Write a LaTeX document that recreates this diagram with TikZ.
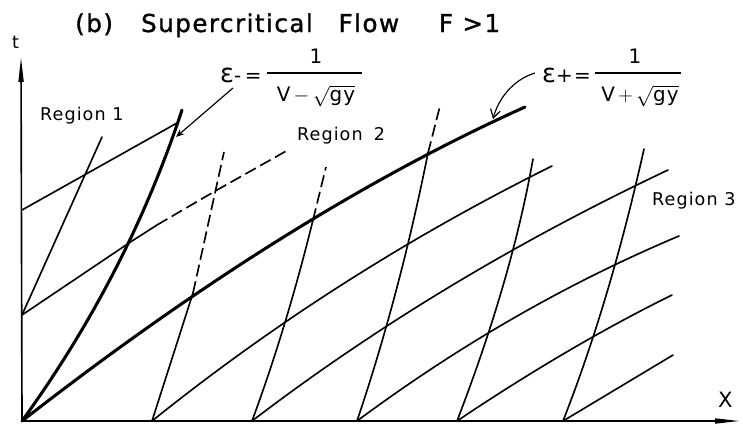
\documentclass[tikz,border=0pt]{standalone}
\usepackage{fontspec}
\usepackage{amsmath}
\setmainfont{DejaVu Sans}
\newfontfamily\lettering[LetterSpace=6]{DejaVu Sans}
\newfontfamily\heavylettering[LetterSpace=6,FakeBold=1.2]{DejaVu Sans}
\newcommand{\epsfont}{\fontsize{22}{24}\selectfont}
\usetikzlibrary{arrows.meta}

\tikzset{
  char/.style={line width=1.4pt, line cap=round},
  mainchar/.style={line width=2.6pt, line cap=round},
  dashchar/.style={line width=1.4pt, dash pattern=on 3.6mm off 1.5mm},
  axis/.style={line width=1.4pt, -{Triangle[length=7.5mm,width=1.5mm]}},
  pointer/.style={line width=1pt},
  fracbar/.style={line width=1pt},
  regiontext/.style={inner sep=0pt, anchor=base west, font=\lettering\fontsize{15}{18}\selectfont},
  formtext/.style={inner sep=0pt, anchor=base west, font=\lettering\fontsize{17}{20}\selectfont},
  titletext/.style={inner sep=0pt, anchor=base west, font=\heavylettering\fontsize{21}{24}\selectfont},
}

\begin{document}
\begin{tikzpicture}[x=0.3mm,y=-0.3mm]
\useasboundingbox (0,0) rectangle (743,433);

% axes
\coordinate (O) at (22,421);
\coordinate (ytip) at (21,57);
\coordinate (xtip) at (740,421);
\draw[axis] (O) -- (ytip);
\draw[axis] (O) -- (xtip);
\node[regiontext] (tlab) at (12,48) {t};
\node[regiontext, font=\lettering\fontsize{18}{20}\selectfont] (xlab) at (718,407) {X};

% starting points on the axes
\coordinate (a1) at (22,315);
\coordinate (a2) at (22,210);
\coordinate (f1) at (152,421);
\coordinate (f2) at (252,421);
\coordinate (f3) at (357,421);
\coordinate (f4) at (457,421);
\coordinate (f5) at (563,421);

% points where lines end or change to dashed
\coordinate (m0end) at (102,137);
\coordinate (m1p2) at (132,241);
\coordinate (m1p1) at (177,123);
\coordinate (m1end) at (182,110);
\coordinate (m2p3) at (193,293);
\coordinate (m2p2) at (217,190);
\coordinate (m2end) at (224,152);
\coordinate (m3p3) at (313,220);
\coordinate (m3end) at (326,167);
\coordinate (m4p3) at (428,153);
\coordinate (m4end) at (440,106);
\coordinate (m5end) at (533,159);
\coordinate (m6end) at (644,149);
\coordinate (p2dash) at (157,225);
\coordinate (p2end) at (288,150);
\coordinate (p3end) at (525,107);
\coordinate (p4end) at (552,166);
\coordinate (p5end) at (668,170);
\coordinate (p6end) at (679,236);
\coordinate (p7end) at (672,295);
\coordinate (p8end) at (673,355);
\coordinate (m1mark) at (176,137);
\coordinate (p3mark) at (493,119);

% flat characteristics
\draw[char] (a2) -- (m1p1);
\draw[char] (a1) -- (m1p2) -- (p2dash);
\draw[dashchar] (p2dash) -- (m2p2) -- (p2end);
\draw[mainchar] (O) .. controls (199,283) and (367,178) .. (p3end);
\draw[char] (f1) .. controls (274,323) and (407,238) .. (p4end);
\draw[char] (f2) .. controls (379,324) and (518,241) .. (p5end);
\draw[char] (f3) .. controls (458,346) and (565,284) .. (p6end);
\draw[char] (f4) .. controls (533,370) and (605,328) .. (p7end);
\draw[char] (f5) -- (p8end);

% steep characteristics
\draw[char] (a1) -- (m0end);
\draw[mainchar] (O) .. controls (93,323) and (146,219) .. (m1end);
\draw[char] (f1) -- (m2p3);
\draw[dashchar] (m2p3) -- (m2end);
\draw[char] (f2) .. controls (276,356) and (296,289) .. (m3p3);
\draw[dashchar] (m3p3) -- (m3end);
\draw[char] (f3) .. controls (385,338) and (409,248) .. (m4p3);
\draw[dashchar] (m4p3) -- (m4end);
\draw[char] (f4) .. controls (494,325) and (519,238) .. (m5end);
\draw[char] (f5) .. controls (594,342) and (621,252) .. (m6end);

% labels
\node[titletext] (title) at (75,32) {(b)\hspace{24pt}Supercritical\hspace{22pt}Flow\hspace{34pt}F >1};
\node[regiontext] (reg1) at (40,120) {Region 1};
\node[regiontext] (reg2) at (297,140) {Region\hspace{4pt} 2};
\node[regiontext] (reg3) at (652,205) {Region 3};

% epsilon minus
\node[formtext] (epsm) at (220,82) {{\epsfont ε}-\hspace{3pt}=};
\node[formtext, anchor=base] (numm) at (316,63) {1};
\node[formtext, anchor=base] (denm) at (316,101) {V\,$-$\,$\sqrt{\text{gy}}$};
\draw[fracbar] (267,73) -- (362,73);

% epsilon plus
\node[formtext] (epsp) at (542,82) {{\epsfont ε}+\hspace{1pt}=};
\node[formtext, anchor=base] (nump) at (635,63) {1};
\node[formtext, anchor=base] (denp) at (640,101) {V\,$+$\,$\sqrt{\text{gy}}$};
\draw[fracbar] (595,73) -- (681,73);

\draw[pointer, -{Stealth[length=2.5mm,width=2mm]}] (epsm.base west) ++(13,6) -- (m1mark);
\draw[pointer, -{Straight Barb[length=2.5mm,width=3mm]}] (epsp.base west) ++(-7,-9)
  .. controls (512,80) and (498,100) .. (p3mark);
\end{tikzpicture}
\end{document}
